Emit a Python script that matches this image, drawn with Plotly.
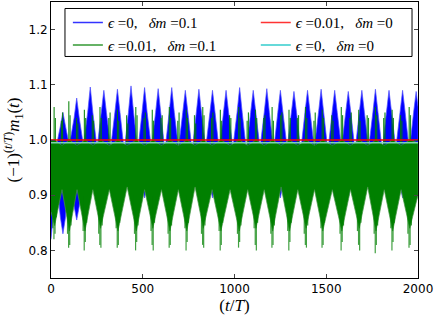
import plotly.graph_objects as go

# ---------------- data ----------------
# blue: eps=0, dm=0.1 -- upper / lower envelope of the fast oscillation
blue_t = [0, 30, 51, 65, 79, 100, 126, 140, 154, 177, 200, 214, 228, 251, 274, 288, 302, 325,
          348, 362, 376, 399, 422, 436, 450, 473, 496, 510, 524, 547, 570, 584, 598, 621, 644,
          658, 672, 695, 718, 732, 746, 769, 792, 806, 820, 843, 866, 880, 894, 917, 940, 954,
          968, 991, 1014, 1028, 1042, 1065, 1088, 1102, 1116, 1139, 1162, 1176, 1190, 1213,
          1236, 1250, 1264, 1287, 1310, 1324, 1338, 1361, 1384, 1398, 1412, 1435, 1458, 1472,
          1486, 1509, 1532, 1546, 1560, 1583, 1606, 1620, 1634, 1657, 1680, 1694, 1708, 1731,
          1754, 1768, 1782, 1805, 1828, 1842, 1856, 1879, 1902, 1916, 1930, 1953, 1976, 1990, 2000]
blue_hi = [1.00, 0.99, 1.025, 1.05, 1.025, 0.99, 1.04, 1.076, 1.04, 0.99,
           1.05, 1.096, 1.05, 0.985, 1.05, 1.09, 1.05, 0.985, 1.05, 1.092, 1.05, 0.98,
           1.05, 1.098, 1.05, 0.98, 1.05, 1.095, 1.05, 0.985, 1.05, 1.093, 1.05, 0.98,
           1.05, 1.095, 1.05, 0.985, 1.05, 1.09, 1.05, 0.98, 1.05, 1.092, 1.05, 0.985,
           1.05, 1.09, 1.05, 0.98, 1.05, 1.09, 1.05, 0.985, 1.05, 1.095, 1.05, 0.98,
           1.05, 1.09, 1.05, 0.985, 1.05, 1.093, 1.05, 0.98, 1.05, 1.09, 1.05, 0.985,
           1.05, 1.088, 1.05, 0.98, 1.05, 1.09, 1.05, 0.985, 1.05, 1.092, 1.05, 0.98,
           1.05, 1.09, 1.05, 0.985, 1.05, 1.088, 1.05, 0.98, 1.05, 1.09, 1.05, 0.985,
           1.05, 1.092, 1.05, 0.98, 1.05, 1.09, 1.05, 0.985, 1.05, 1.09, 1.05, 0.98,
           1.05, 1.088, 1.06]
blue_lo = [0.82, 0.93, 0.86, 0.83, 0.86, 0.95, 0.88, 0.855, 0.88, 0.96,
           0.93, 0.91, 0.93, 0.965, 0.92, 0.90, 0.92, 0.965, 0.92, 0.895, 0.92, 0.965,
           0.92, 0.895, 0.92, 0.965, 0.92, 0.895, 0.92, 0.965, 0.92, 0.895, 0.92, 0.965,
           0.92, 0.895, 0.92, 0.965, 0.92, 0.895, 0.92, 0.965, 0.92, 0.895, 0.92, 0.965,
           0.92, 0.895, 0.92, 0.965, 0.92, 0.895, 0.92, 0.965, 0.92, 0.895, 0.92, 0.965,
           0.92, 0.895, 0.92, 0.965, 0.92, 0.895, 0.92, 0.965, 0.92, 0.895, 0.92, 0.965,
           0.92, 0.895, 0.92, 0.965, 0.92, 0.895, 0.92, 0.965, 0.92, 0.895, 0.92, 0.965,
           0.92, 0.895, 0.92, 0.965, 0.92, 0.895, 0.92, 0.965, 0.92, 0.895, 0.92, 0.965,
           0.92, 0.895, 0.92, 0.965, 0.92, 0.895, 0.92, 0.965, 0.92, 0.895, 0.92, 0.965,
           0.92, 0.90, 0.92]

# green: eps=0.01, dm=0.1 -- dense body plus the thin spikes around it
green_t = [0, 20, 60, 100, 142, 185, 228, 270, 318, 365, 415, 465, 510, 555, 602, 648, 694,
           740, 785, 830, 878, 926, 976, 1026, 1072, 1117, 1162, 1208, 1254, 1300, 1345, 1390,
           1436, 1481, 1533, 1585, 1632, 1680, 1726, 1771, 1816, 1862, 1908, 1955, 2000]
green_hi = [1.0, 1.0, 0.99, 1.0, 0.99, 1.0, 0.99, 1.0, 0.99, 1.0, 0.99, 1.0, 0.99, 1.0, 0.99,
            1.0, 0.99, 1.0, 0.99, 1.0, 0.99, 1.0, 0.99, 1.0, 0.99, 1.0, 0.99, 1.0, 0.99, 1.0,
            0.99, 1.0, 0.99, 1.0, 0.99, 1.0, 0.99, 1.0, 0.99, 1.0, 0.99, 1.0, 0.99, 1.0, 0.995]
green_lo = [0.87, 0.845, 0.91, 0.835, 0.91, 0.835, 0.91, 0.84, 0.91, 0.835, 0.915, 0.835,
            0.91, 0.84, 0.91, 0.835, 0.91, 0.835, 0.915, 0.84, 0.91, 0.835, 0.91, 0.835, 0.91,
            0.84, 0.91, 0.835, 0.915, 0.835, 0.91, 0.84, 0.91, 0.835, 0.91, 0.835, 0.91, 0.84,
            0.915, 0.835, 0.91, 0.835, 0.91, 0.84, 0.90]

green_up_t = [17, 24, 57, 63, 97, 104, 139, 146, 182, 189, 225, 232, 267, 274, 315, 322, 362,
              369, 412, 419, 462, 469, 507, 514, 552, 559, 599, 606, 645, 652, 691, 698, 737,
              744, 782, 789, 827, 834, 875, 882, 923, 930, 973, 980, 1023, 1030, 1069, 1076,
              1114, 1121, 1159, 1166, 1205, 1212, 1251, 1258, 1297, 1304, 1342, 1349, 1387,
              1394, 1433, 1440, 1478, 1485, 1530, 1537, 1582, 1589, 1629, 1636, 1677, 1684,
              1723, 1730, 1768, 1775, 1813, 1820, 1859, 1866, 1905, 1912, 1952, 1959]
green_up = [1.06, 1.04, 1.035, 1.05, 1.07, 1.045, 1.04, 1.03, 1.055, 1.04, 1.045, 1.035,
            1.06, 1.04, 1.04, 1.05, 1.055, 1.035, 1.045, 1.03, 1.06, 1.045, 1.04, 1.05,
            1.055, 1.035, 1.04, 1.045, 1.06, 1.04, 1.035, 1.05, 1.055, 1.04, 1.045, 1.03,
            1.06, 1.045, 1.04, 1.05, 1.055, 1.035, 1.045, 1.04, 1.06, 1.04, 1.035, 1.05,
            1.055, 1.04, 1.04, 1.045, 1.06, 1.035, 1.045, 1.05, 1.055, 1.04, 1.04, 1.045,
            1.06, 1.04, 1.035, 1.05, 1.055, 1.04, 1.045, 1.035, 1.06, 1.045, 1.04, 1.05,
            1.055, 1.035, 1.045, 1.04, 1.06, 1.045, 1.04, 1.05, 1.055, 1.04, 1.045, 1.035,
            1.06, 1.045]
green_dn_t = [10, 16, 22, 29, 90, 96, 102, 109, 175, 181, 187, 194, 260, 266, 272, 279, 355,
              361, 367, 374, 455, 461, 467, 474, 545, 551, 557, 564, 638, 644, 650, 657, 730,
              736, 742, 749, 820, 826, 832, 839, 916, 922, 928, 935, 1016, 1022, 1028, 1035,
              1107, 1113, 1119, 1126, 1198, 1204, 1210, 1217, 1290, 1296, 1302, 1309, 1380,
              1386, 1392, 1399, 1471, 1477, 1483, 1490, 1575, 1581, 1587, 1594, 1670, 1676,
              1682, 1689, 1761, 1767, 1773, 1780, 1852, 1858, 1864, 1871, 1945, 1951, 1957, 1964]
green_dn = [0.84, 0.82, 0.83, 0.86, 0.83, 0.805, 0.81, 0.845, 0.835, 0.80, 0.815, 0.85,
            0.83, 0.81, 0.805, 0.845, 0.84, 0.805, 0.81, 0.85, 0.83, 0.80, 0.815, 0.845,
            0.835, 0.81, 0.80, 0.85, 0.83, 0.805, 0.81, 0.845, 0.84, 0.80, 0.815, 0.85,
            0.83, 0.81, 0.805, 0.845, 0.835, 0.80, 0.81, 0.85, 0.83, 0.805, 0.815, 0.845,
            0.84, 0.81, 0.80, 0.85, 0.83, 0.805, 0.81, 0.845, 0.835, 0.80, 0.815, 0.85,
            0.83, 0.81, 0.805, 0.845, 0.84, 0.805, 0.81, 0.85, 0.83, 0.80, 0.815, 0.845,
            0.835, 0.81, 0.80, 0.85, 0.83, 0.795, 0.81, 0.845, 0.84, 0.80, 0.815, 0.85,
            0.83, 0.805, 0.81, 0.845]
green_up_base = 0.99
green_dn_base = 0.90

# constant series
const_t = [0, 2000]
red_y = [1.0, 1.0]        # eps=0.01, dm=0
cyan_y = [0.995, 0.995]   # eps=0, dm=0

x_ticks = [0, 500, 1000, 1500, 2000]
y_ticks = [0.8, 0.9, 1.0, 1.1, 1.2]

NB = "\u00a0"
labels = [f"<i>ϵ</i>{NB}=0,{NB*3}<i>δm</i>{NB}=0.1",
          f"<i>ϵ</i>{NB}=0.01,{NB*3}<i>δm</i>{NB}=0.1",
          f"<i>ϵ</i>{NB}=0.01,{NB*3}<i>δm</i>{NB}=0",
          f"<i>ϵ</i>{NB}=0,{NB*3}<i>δm</i>{NB}=0"]
leg_cols = ["#3333ff", "#339933", "#ff3333", "#33cccc"]

fig = go.Figure()


def band(t, hi, lo, fill, edge):
    return go.Scatter(x=list(t) + list(t)[::-1], y=list(hi) + list(lo)[::-1],
                      mode="lines", fill="toself", fillcolor=fill,
                      line=dict(color=edge, width=1), showlegend=False, hoverinfo="skip")


def spikes(ts, tips, base, color):
    xs, ys = [], []
    for t, v in zip(ts, tips):
        xs += [t, t, None]
        ys += [base, v, None]
    return go.Scatter(x=xs, y=ys, mode="lines", line=dict(color=color, width=1.2),
                      showlegend=False, hoverinfo="skip")


fig.add_trace(band(blue_t, blue_hi, blue_lo, "#0000ff", "rgba(80,80,255,0.7)"))
fig.add_trace(band(green_t, green_hi, green_lo, "#008000", "rgba(70,150,70,0.7)"))
fig.add_trace(spikes(green_up_t, green_up, green_up_base, "rgba(0,128,0,0.85)"))
fig.add_trace(spikes(green_dn_t, green_dn, green_dn_base, "rgba(0,128,0,0.75)"))
fig.add_trace(go.Scatter(x=const_t, y=cyan_y, mode="lines", showlegend=False,
                         line=dict(color="rgba(140,220,190,0.9)", width=1.5)))
fig.add_trace(go.Scatter(x=const_t, y=red_y, mode="lines", showlegend=False,
                         line=dict(color="#ff0000", width=1.5)))

# legend entries (two columns as two legends)
for i, (lab, c) in enumerate(zip(labels, leg_cols)):
    fig.add_trace(go.Scatter(x=[None], y=[None], mode="lines", name=lab,
                             line=dict(color=c, width=1.5),
                             legend="legend" if i < 2 else "legend2"))

axis_common = dict(showline=True, linecolor="black", linewidth=1, mirror="ticks",
                   ticks="inside", ticklen=4, tickcolor="#444", showgrid=False,
                   zeroline=False, automargin=False,
                   tickfont=dict(family="DejaVu Sans", size=12, color="black"))

fig.update_xaxes(range=[0, 2000], tickvals=x_ticks, ticktext=[str(v) for v in x_ticks],
                 title=dict(text="(<i>t</i>/<i>T</i>)", standoff=0,
                            font=dict(family="Liberation Serif", size=17, color="black")),
                 **axis_common)
fig.update_yaxes(range=[0.75, 1.25], tickvals=y_ticks, ticktext=[f"{v:.1f}" for v in y_ticks],
                 title=dict(text="(−1)<sup>(<i>t</i>/<i>T</i>)</sup><i>m</i><sub>1</sub>(<i>t</i>)",
                            standoff=4,
                            font=dict(family="Liberation Serif", size=17, color="black")),
                 **axis_common)

leg_font = dict(family="Liberation Serif", size=15, color="black")
fig.update_layout(
    width=436, height=317,
    margin=dict(l=51, r=18, t=2, b=39),
    plot_bgcolor="white", paper_bgcolor="white",
    showlegend=True,
    legend=dict(x=0.046, y=0.985, xanchor="left", yanchor="top", bgcolor="rgba(0,0,0,0)",
                borderwidth=0, font=leg_font, itemwidth=30, tracegroupgap=0),
    legend2=dict(x=0.558, y=0.985, xanchor="left", yanchor="top", bgcolor="rgba(0,0,0,0)",
                 borderwidth=0, font=leg_font, itemwidth=30, tracegroupgap=0),
    shapes=[dict(type="rect", xref="paper", yref="paper", x0=0.0381, x1=0.9837,
                 y0=0.8026, y1=0.9765, line=dict(color="black", width=1),
                 fillcolor="white", layer="above")],
)

fig.write_html("out.html", config={"displayModeBar": False},
               post_script="document.body.style.margin='0';")
